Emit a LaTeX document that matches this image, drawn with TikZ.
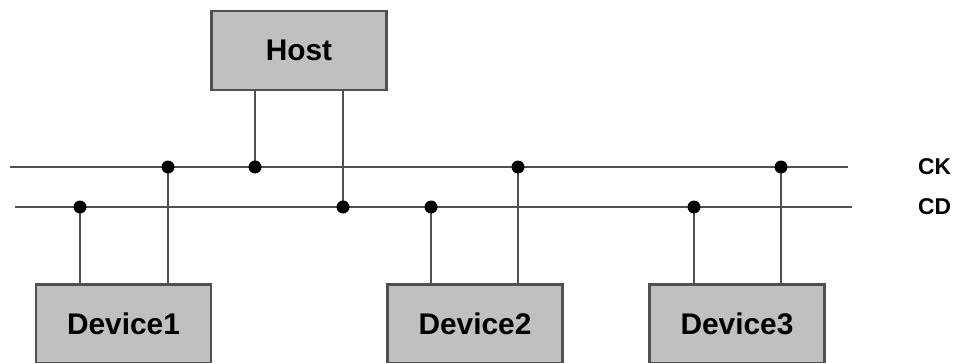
\documentclass[tikz,border=0pt]{standalone}
\usepackage{fontspec}
\setmainfont{Liberation Sans}
\usetikzlibrary{positioning, calc}

\definecolor{boxgray}{RGB}{192,192,192}
\definecolor{wiregray}{RGB}{80,80,80}

\begin{document}
\begin{tikzpicture}[x=0.02cm, y=-0.02cm,
    box/.style={draw=wiregray, fill=boxgray, line width=1.2pt,
        minimum width=3.5cm, minimum height=1.58cm,
        font=\fontsize{17}{19}\selectfont\bfseries},
    wire/.style={draw=wiregray, line width=1.2pt},
    dot/.style={circle, fill=black, inner sep=0pt, minimum size=0.26cm},
    buslabel/.style={anchor=west, font=\fontsize{13}{15}\selectfont\bfseries}]

    % Fix the frame
    \useasboundingbox (0,0) rectangle (954,362);

    % Define bus heights
    \def\Yck{167}
    \def\Ycd{207}

    % Host and devices
    \node[box] (host) at (299,50.5) {Host};
    \node[box] (dev1) at (123.5,324) {Device1};
    \node[box] (dev2) at (475,324) {Device2};
    \node[box] (dev3) at (737,324) {Device3};

    % Bus ends
    \coordinate (ckL) at (10,\Yck);
    \coordinate (ckR) at (848,\Yck);
    \coordinate (cdL) at (15,\Ycd);
    \coordinate (cdR) at (852,\Ycd);

    % Draw the two bus lines
    \draw[wire] (ckL) -- (ckR);
    \draw[wire] (cdL) -- (cdR);

    % Bus labels
    \node[buslabel] (ck) at (912,\Yck) {CK};
    \node[buslabel] (cd) at (912,\Ycd) {CD};

    % Tap points on the bus
    \coordinate (ck1) at (168,\Yck);
    \coordinate (ckh) at (255,\Yck);
    \coordinate (ck2) at (518,\Yck);
    \coordinate (ck3) at (781,\Yck);
    \coordinate (cd1) at (80,\Ycd);
    \coordinate (cdh) at (343,\Ycd);
    \coordinate (cd2) at (431,\Ycd);
    \coordinate (cd3) at (694,\Ycd);

    % Host connections
    \draw[wire] (host.south -| ckh) -- (ckh);
    \draw[wire] (host.south -| cdh) -- (cdh);

    % Device connections
    \draw[wire] (dev1.north -| cd1) -- (cd1);
    \draw[wire] (dev1.north -| ck1) -- (ck1);
    \draw[wire] (dev2.north -| cd2) -- (cd2);
    \draw[wire] (dev2.north -| ck2) -- (ck2);
    \draw[wire] (dev3.north -| cd3) -- (cd3);
    \draw[wire] (dev3.north -| ck3) -- (ck3);

    % Dots on the taps
    \foreach \d in {ck1,ckh,ck2,ck3,cd1,cdh,cd2,cd3}
        \node[dot] (dot-\d) at (\d) {};

\end{tikzpicture}
\end{document}
